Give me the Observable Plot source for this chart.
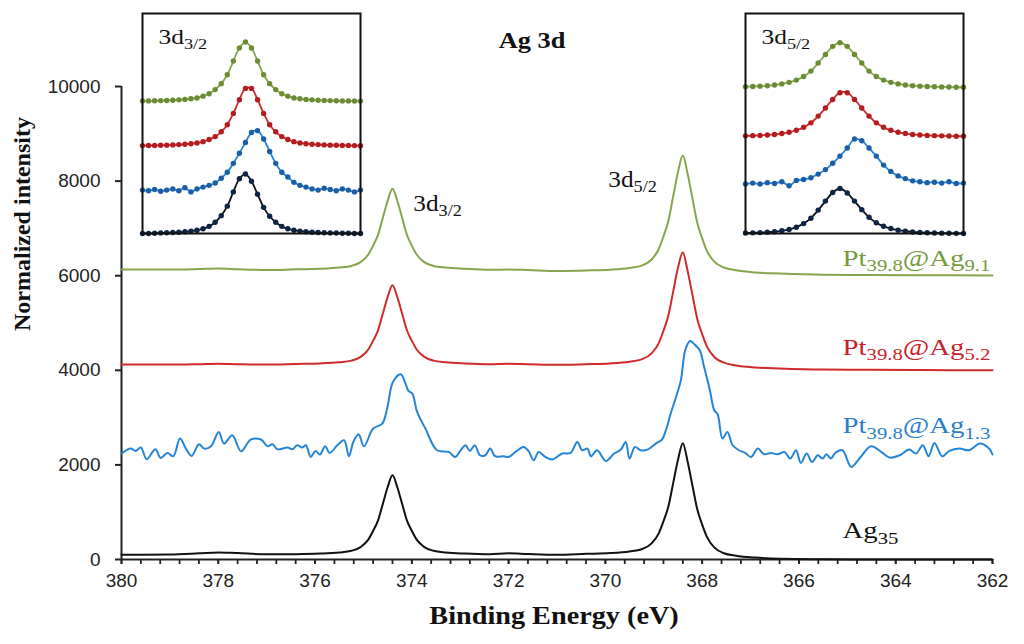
<!DOCTYPE html>
<html>
<head>
<meta charset="utf-8">
<script src="https://cdn.jsdelivr.net/npm/d3@7"></script>
<script src="https://cdn.jsdelivr.net/npm/@observablehq/plot@0.6"></script>
<style>
  body { margin: 0; background: #fff; }
  #wrap { position: relative; width: 1024px; height: 644px; }
</style>
</head>
<body>
<div id="wrap"></div>
<script>
// binding energy grid shared by the three smooth spectra (eV)
const smoothE = [380, 379, 378.4, 378, 377.6, 377, 376.4, 375.9, 375.5, 375.25, 375.05,
  374.9, 374.8, 374.7, 374.6, 374.5, 374.4, 374.3, 374.2, 374.1, 374.0, 373.9,
  373.75, 373.55, 373.3, 372.9, 372.4, 372, 371.6, 371, 370.4, 369.9, 369.5, 369.25, 369.05,
  368.9, 368.8, 368.7, 368.6, 368.5, 368.4, 368.3, 368.2, 368.1, 368.0, 367.9,
  367.75, 367.55, 367.3, 366.9, 366.4, 365.5, 364.5, 363.5, 362];

const ptAg91 = [6130, 6130, 6140, 6150, 6135, 6120, 6134, 6146, 6172, 6206, 6292,
  6447, 6636, 6860, 7221, 7582, 7840, 7582, 7221, 6860, 6636, 6447,
  6292, 6206, 6172, 6146, 6125, 6130, 6120, 6100, 6110, 6127, 6164, 6214, 6337,
  6559, 6831, 7152, 7671, 8190, 8540, 8150, 7631, 7112, 6791, 6519,
  6297, 6174, 6114, 6067, 6045, 6020, 6015, 6010, 6005];

const ptAg52 = [4120, 4120, 4130, 4140, 4130, 4120, 4133, 4145, 4170, 4204, 4288,
  4439, 4624, 4842, 5195, 5548, 5800, 5548, 5195, 4842, 4624, 4439,
  4288, 4204, 4170, 4145, 4130, 4140, 4130, 4115, 4129, 4146, 4183, 4231, 4352,
  4570, 4836, 5151, 5659, 6167, 6490, 6097, 5589, 5081, 4766, 4500,
  4282, 4161, 4103, 4061, 4039, 4015, 4010, 4005, 4000];

const ag35 = [100, 105, 130, 150, 135, 110, 113, 125, 150, 184, 268,
  419, 604, 822, 1175, 1528, 1780, 1528, 1175, 822, 604, 419,
  268, 184, 150, 125, 110, 130, 115, 100, 119, 135, 171, 218, 336,
  548, 808, 1115, 1610, 2106, 2460, 2066, 1560, 1055, 738, 473,
  256, 133, 81, 40, 15, 5, 0, 0, 0];

// the noisy Pt39.8@Ag1.3 spectrum has its own points
const ptAg13E = [380.0, 379.81, 379.71, 379.60, 379.48, 379.30, 379.19, 379.05, 378.93, 378.79,
  378.67, 378.55, 378.40, 378.29, 378.15, 377.99, 377.88, 377.71, 377.53, 377.33,
  377.12, 376.98, 376.88, 376.78, 376.57, 376.47, 376.37, 376.26, 376.19, 376.09,
  375.99, 375.90, 375.79, 375.70, 375.54, 375.40, 375.30, 375.21, 375.10, 374.99,
  374.80, 374.61, 374.51, 374.39, 374.23, 374.13, 374.07, 373.99, 373.89, 373.72,
  373.48, 373.24, 373.10, 373.00, 372.89, 372.80, 372.70, 372.59, 372.48, 372.38,
  372.28, 372.10, 372.00, 371.86, 371.69, 371.59, 371.48, 371.38, 371.24, 371.10,
  370.89, 370.72, 370.58, 370.48, 370.37, 370.30, 370.17, 369.99, 369.82, 369.68,
  369.58, 369.50, 369.39, 369.27, 369.13, 368.96, 368.83, 368.75, 368.65, 368.54,
  368.44, 368.35, 368.25, 368.14, 368.05, 367.96, 367.84, 367.75, 367.68, 367.58,
  367.48, 367.37, 367.24, 367.11, 366.99, 366.85, 366.72, 366.58, 366.44, 366.30,
  366.18, 366.06, 365.96, 365.84, 365.73, 365.61, 365.51, 365.43, 365.34, 365.25,
  365.10, 364.92, 364.75, 364.51, 364.30, 364.13, 363.92, 363.72, 363.58, 363.44,
  363.32, 363.20, 363.04, 362.89, 362.69, 362.48, 362.26, 362.07, 362.0];

const ptAg13 = [2240, 2345, 2295, 2367, 2119, 2331, 2147, 2253, 2183, 2557,
  2345, 2189, 2436, 2345, 2394, 2697, 2451, 2627, 2288, 2536,
  2536, 2394, 2436, 2331, 2367, 2331, 2415, 2367, 2415, 2168,
  2295, 2219, 2394, 2253, 2415, 2521, 2183, 2485, 2648, 2394,
  2768, 2874, 3191, 3753, 3915, 3719, 3563, 3508, 3119, 2768,
  2310, 2274, 2168, 2295, 2415, 2295, 2415, 2204, 2204, 2345,
  2183, 2183, 2168, 2274, 2380, 2295, 2098, 2274, 2168, 2113,
  2240, 2253, 2485, 2310, 2345, 2183, 2310, 2084, 2240, 2324,
  2485, 2134, 2380, 2310, 2324, 2451, 2536, 2732, 3085, 3436,
  3789, 4423, 4619, 4528, 4423, 4070, 3577, 3155, 3070, 2557,
  2697, 2415, 2310, 2253, 2168, 2345, 2225, 2253, 2225, 2274,
  2134, 2310, 2041, 2240, 2062, 2204, 2134, 2225, 2134, 2253,
  2310, 1957, 2134, 2394, 2274, 2155, 2204, 2324, 2240, 2415,
  2183, 2464, 2183, 2295, 2345, 2310, 2451, 2345, 2220];

const xMajor = [380, 378, 376, 374, 372, 370, 368, 366, 364, 362];
const xMinor = d3.range(0, 46).map(i => +(380 - i * 0.4).toFixed(1));
const yTicks = [0, 2000, 4000, 6000, 8000, 10000];

// insets: normalised peaks, stacked Ag35, Pt@Ag1.3, Pt@Ag5.2, Pt@Ag9.1 (bottom to top)
const inset32E = [376.1, 376.0, 375.9, 375.8, 375.7, 375.6, 375.5, 375.4, 375.3, 375.2, 375.1,
  375.0, 374.9, 374.8, 374.7, 374.6, 374.5, 374.4, 374.3, 374.2, 374.1, 374.0, 373.9,
  373.8, 373.7, 373.6, 373.5, 373.4, 373.3, 373.2, 373.1, 373.0, 372.9, 372.8, 372.7, 372.6, 372.5];
const inset32Ag35 = [0.0, 0.0, 0.005, 0.01, 0.012, 0.016, 0.02, 0.03, 0.04, 0.055, 0.08, 0.12, 0.19,
  0.3, 0.46, 0.7, 0.92, 1, 0.88, 0.66, 0.44, 0.29, 0.19, 0.12, 0.08, 0.055, 0.04, 0.03,
  0.022, 0.016, 0.012, 0.01, 0.008, 0.005, 0.003, 0.0, 0.0];
const inset32Ag13 = [0.0, -0.01, 0.01, -0.02, 0.0, 0.02, -0.01, 0.04, -0.03, 0.02, 0.05, 0.08, 0.12,
  0.2, 0.3, 0.45, 0.62, 0.8, 0.97, 1.0, 0.86, 0.65, 0.45, 0.3, 0.22, 0.13, 0.08, 0.05,
  0.02, 0.0, 0.03, 0.01, -0.01, 0.02, 0.0, -0.03, 0.0];
const inset32Ag52 = [0.008, 0.009, 0.011, 0.013, 0.016, 0.02, 0.025, 0.031, 0.04, 0.052, 0.075, 0.11,
  0.16, 0.24, 0.36, 0.55, 0.78, 0.97, 0.97, 0.78, 0.55, 0.36, 0.24, 0.16, 0.11, 0.075,
  0.052, 0.04, 0.031, 0.025, 0.02, 0.016, 0.013, 0.011, 0.009, 0.008, 0.007];
const inset32Ag91 = [0.01, 0.01, 0.012, 0.015, 0.018, 0.022, 0.028, 0.035, 0.045, 0.06, 0.09, 0.13,
  0.2, 0.3, 0.45, 0.68, 0.9, 1, 0.9, 0.68, 0.45, 0.3, 0.2, 0.13, 0.09, 0.06, 0.045, 0.035,
  0.028, 0.022, 0.018, 0.015, 0.012, 0.01, 0.01, 0.008, 0.007];
const inset32Offsets = [0, 0.73, 1.47, 2.22];

const inset52E = [369.45, 369.37, 369.29, 369.21, 369.13, 369.05, 368.97, 368.89, 368.81, 368.73,
  368.65, 368.57, 368.49, 368.41, 368.33, 368.25, 368.17, 368.09, 368.01, 367.93, 367.85,
  367.77, 367.69, 367.61, 367.53, 367.45, 367.37, 367.29, 367.21, 367.13, 367.05];
const inset52Ag35 = [0.01, 0.015, 0.02, 0.03, 0.04, 0.06, 0.09, 0.14, 0.22, 0.34, 0.52, 0.72, 0.91, 1,
  0.9, 0.72, 0.53, 0.36, 0.24, 0.16, 0.11, 0.075, 0.05, 0.035, 0.025, 0.018, 0.012, 0.008,
  0.005, 0.003, 0.0];
const inset52Ag13 = [0.0, 0.02, 0.0, 0.03, 0.01, 0.05, -0.04, 0.08, 0.1, 0.14, 0.22, 0.32, 0.46, 0.62,
  0.8, 1.0, 0.96, 0.8, 0.62, 0.42, 0.28, 0.18, 0.12, 0.07, 0.05, 0.03, 0.04, 0.02, 0.05, 0.01, 0.02];
const inset52Ag52 = [0.02, 0.025, 0.031, 0.04, 0.052, 0.072, 0.1, 0.145, 0.21, 0.31, 0.46, 0.64, 0.83,
  0.98, 0.98, 0.83, 0.64, 0.46, 0.31, 0.21, 0.145, 0.1, 0.072, 0.052, 0.04, 0.031, 0.025,
  0.02, 0.016, 0.013, 0.011];
const inset52Ag91 = [0.022, 0.028, 0.035, 0.045, 0.06, 0.085, 0.12, 0.17, 0.25, 0.37, 0.55, 0.74, 0.92,
  1, 0.92, 0.74, 0.55, 0.37, 0.25, 0.17, 0.12, 0.085, 0.06, 0.045, 0.035, 0.028, 0.022,
  0.018, 0.015, 0.012, 0.01];
const inset52Offsets = [0, 1.1, 2.15, 3.24];

const serif = "Liberation Serif, Times New Roman, serif";
const lineColors = ["#111111", "#2585d6", "#cf2a2c", "#86a64e"];
const dotColors = ["#0c2546", "#1a5fa6", "#b51c1f", "#6b8c34"];
const labelColors = ["#111111", "#2a80cc", "#c8232b", "#779a3e"];

const chart = Plot.plot({
  width: 1024,
  height: 644,
  marginLeft: 121,
  marginRight: 32,
  marginTop: 86,
  marginBottom: 85,
  x: { domain: [380, 362] },
  y: { domain: [0, 10000] },
  style: { fontFamily: "Liberation Sans, Arial, sans-serif", background: "white", overflow: "visible", color: "#222" },
  marks: [
    Plot.axisY({ ticks: yTicks, tickSize: 6, tickPadding: 15, fontSize: 19, strokeWidth: 2, tickFormat: d => String(d), label: null }),
    Plot.axisX({ ticks: xMinor, tickSize: 5, strokeWidth: 1.8, tickFormat: () => "", label: null }),
    Plot.axisX({ ticks: xMajor, tickSize: 5, tickPadding: 9, fontSize: 19, strokeWidth: 1.8, tickFormat: d => String(d), label: null }),
    Plot.ruleY([0], { stroke: "#222", strokeWidth: 2 }),
    Plot.ruleX([380], { y1: 0, y2: 10000, stroke: "#222", strokeWidth: 2 }),
    Plot.line(smoothE, { x: smoothE, y: ag35, stroke: lineColors[0], strokeWidth: 2, curve: "monotone-x" }),
    Plot.line(ptAg13E, { x: ptAg13E, y: ptAg13, stroke: lineColors[1], strokeWidth: 2, curve: "catmull-rom" }),
    Plot.line(smoothE, { x: smoothE, y: ptAg52, stroke: lineColors[2], strokeWidth: 2, curve: "monotone-x" }),
    Plot.line(smoothE, { x: smoothE, y: ptAg91, stroke: lineColors[3], strokeWidth: 2, curve: "monotone-x" }),
    // sample names, braces mark subscripts
    Plot.text(["Ag{35}"], { text: d => d, x: 365.1, y: 444, textAnchor: "start", lineAnchor: "bottom", fill: labelColors[0], fontFamily: serif, fontSize: 24 }),
    Plot.text(["Pt{39.8}@Ag{1.3}"], { text: d => d, x: 365.1, y: 2664, textAnchor: "start", lineAnchor: "bottom", fill: labelColors[1], fontFamily: serif, fontSize: 24 }),
    Plot.text(["Pt{39.8}@Ag{5.2}"], { text: d => d, x: 365.1, y: 4334, textAnchor: "start", lineAnchor: "bottom", fill: labelColors[2], fontFamily: serif, fontSize: 24 }),
    Plot.text(["Pt{39.8}@Ag{9.1}"], { text: d => d, x: 365.1, y: 6215, textAnchor: "start", lineAnchor: "bottom", fill: labelColors[3], fontFamily: serif, fontSize: 24 }),
    // peak names
    Plot.text(["3d{3/2}"], { text: d => d, x: 373.97, y: 7378, textAnchor: "start", lineAnchor: "bottom", fill: "#111", fontFamily: serif, fontSize: 23 }),
    Plot.text(["3d{5/2}"], { text: d => d, x: 369.94, y: 7885, textAnchor: "start", lineAnchor: "bottom", fill: "#111", fontFamily: serif, fontSize: 23 }),
    // titles
    Plot.text(["Ag 3d"], { text: d => d, frameAnchor: "top", dx: -25, dy: -39, lineAnchor: "bottom", fill: "#111", fontFamily: serif, fontWeight: "bold", fontSize: 24 }),
    Plot.text(["Binding Energy (eV)"], { text: d => d, frameAnchor: "bottom", dx: -3, dy: 64, lineAnchor: "bottom", fill: "#111", fontFamily: serif, fontWeight: "bold", fontSize: 25 }),
    Plot.text(["Normalized intensity"], { text: d => d, frameAnchor: "left", dx: -99, dy: 8, rotate: -90, fill: "#111", fontFamily: serif, fontWeight: "bold", fontSize: 24 })
  ]
});

function inset(energy, series, offsets, yTop, title, left, top) {
  const m = 3;
  const marks = [];
  series.forEach((vals, k) => {
    const y = vals.map(v => v + offsets[k]);
    marks.push(Plot.line(energy, { x: energy, y, stroke: lineColors[k], strokeWidth: 1.8, curve: "catmull-rom" }));
    marks.push(Plot.dot(energy, { x: energy, y, r: 2.7, fill: dotColors[k] }));
  });
  marks.push(Plot.frame({ stroke: "#111", strokeWidth: 2 }));
  marks.push(Plot.text([title], { text: d => d, frameAnchor: "top-left", textAnchor: "start", lineAnchor: "bottom", dx: 16, dy: 30, fill: "#111", fontFamily: serif, fontSize: 21 }));
  const p = Plot.plot({
    width: 218 + 2 * m,
    height: 220 + 2 * m,
    margin: m,
    x: { domain: [energy[0], energy[energy.length - 1]], axis: null },
    y: { domain: [0, yTop], axis: null },
    style: { background: "white", overflow: "visible" },
    marks
  });
  p.style.position = "absolute";
  p.style.left = (left - m) + "px";
  p.style.top = (top - m) + "px";
  return p;
}

const insetLeft = inset(inset32E, [inset32Ag35, inset32Ag13, inset32Ag52, inset32Ag91], inset32Offsets, 3.7, "3d{3/2}", 142, 13);
const insetRight = inset(inset52E, [inset52Ag35, inset52Ag13, inset52Ag52, inset52Ag91], inset52Offsets, 4.89, "3d{5/2}", 745, 13);

const wrap = document.getElementById("wrap");
wrap.append(chart, insetLeft, insetRight);

// the source figure's lettering is drawn wider than the font; stretch along the text direction
const widen = { "Pt{": 1.2, "Ag{35}": 1.2, "3d{": 1.1, "Ag 3d": 1.1, "Binding Energy (eV)": 1.13 };
function stretch(svg, extra) {
  d3.select(svg).selectAll("text").each(function () {
    const s = this.textContent;
    const key = Object.keys(widen).find(k => s.startsWith(k));
    if (!key) return;
    const t = this.getAttribute("transform") || "";
    this.setAttribute("transform", `${t} scale(${widen[key] * extra},1)`);
  });
}

// turn "{...}" into lowered, smaller tspans
function subscripts(svg) {
  d3.select(svg).selectAll("text").each(function () {
    const s = this.textContent;
    if (!s.includes("{")) return;
    const fs = parseFloat(getComputedStyle(this).fontSize);
    const shift = fs * 0.24;
    const el = d3.select(this).text("");
    let cur = 0;
    s.split(/[{}]/).forEach((part, i) => {
      if (!part) return;
      const sub = i % 2 === 1;
      const target = sub ? shift : 0;
      el.append("tspan")
        .attr("dy", target - cur)
        .attr("font-size", sub ? fs * 0.72 : null)
        .text(part);
      cur = target;
    });
  });
}
stretch(chart, 1);
stretch(insetLeft, 1.1);
stretch(insetRight, 1.1);
[chart, insetLeft, insetRight].forEach(subscripts);
</script>
</body>
</html>
